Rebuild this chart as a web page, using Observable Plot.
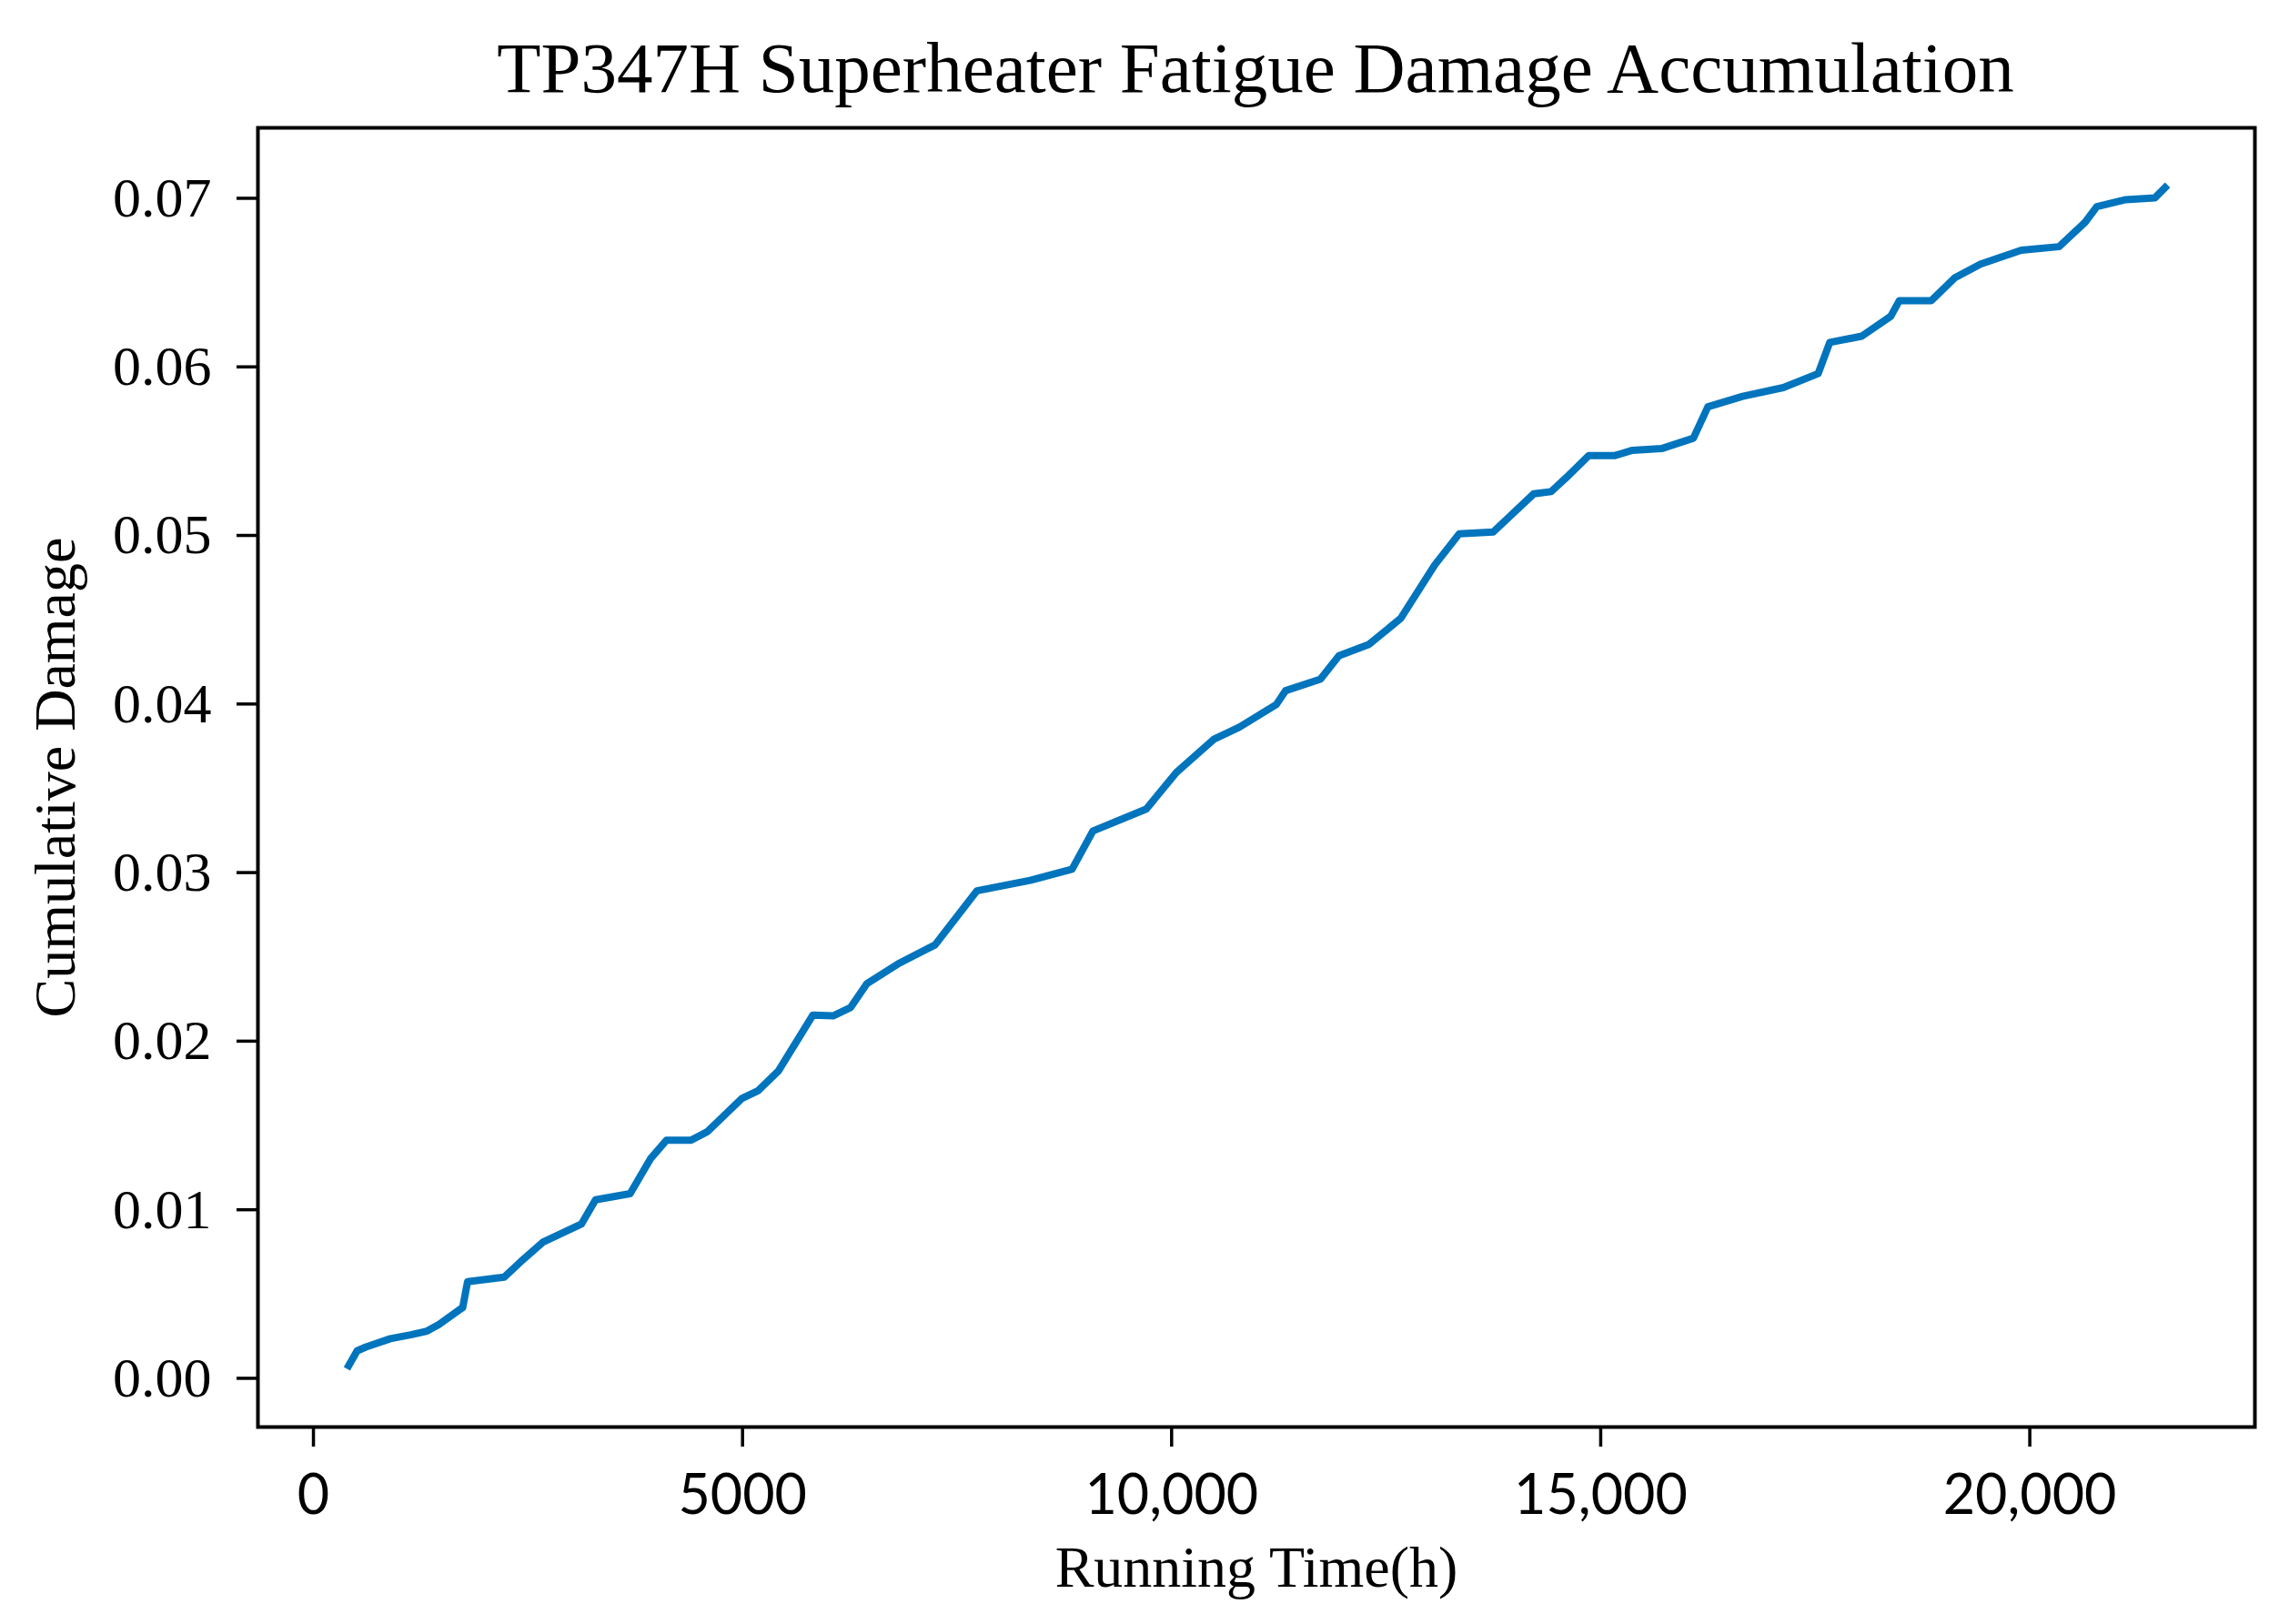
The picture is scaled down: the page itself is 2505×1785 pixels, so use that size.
<!DOCTYPE html>
<html>
<head>
<meta charset="utf-8">
<script src="https://cdn.jsdelivr.net/npm/d3@7"></script>
<script src="https://cdn.jsdelivr.net/npm/@observablehq/plot@0.6"></script>
<style>
  html, body { margin: 0; padding: 0; background: white; }
  #wrap { position: relative; width: 2505px; height: 1785px; overflow: hidden; }
  #title { position: absolute; left: 380px; width: 2000px; top: 35px; height: 90px;
           text-align: center; font-family: "Liberation Serif", "Times New Roman", serif;
           font-size: 79px; line-height: 1; color: #000; white-space: nowrap; }
  #chart { position: absolute; left: 0; top: 125px; }
</style>
</head>
<body>
<div id="wrap">
  <div id="title"></div>
  <div id="chart"></div>
</div>
<script>
const titleText = "TP347H Superheater Fatigue Damage Accumulation";
const xLabel = "Running Time(h)";
const yLabel = "Cumulative Damage";

const xTicks = [0, 5000, 10000, 15000, 20000];
const xTickLabels = ["0", "5000", "10,000", "15,000", "20,000"];
const yTicks = [0, 0.01, 0.02, 0.03, 0.04, 0.05, 0.06, 0.07];

const xDomain = [-647, 22623];
const yDomain = [-0.00289, 0.07418];

const times = [
  390, 509, 613, 897, 1134, 1323, 1463, 1739, 1796, 2223,
  2412, 2672, 3122, 3287, 3690, 3927, 4115, 4401, 4590, 4992,
  5181, 5418, 5820, 6055, 6260, 6450, 6810, 7243, 7731, 8352,
  8840, 9083, 9705, 10056, 10490, 10787, 11220, 11328, 11734, 11950,
  12301, 12670, 13065, 13350, 13746, 14220, 14422, 14592, 14862, 15167,
  15370, 15708, 16080, 16249, 16654, 17128, 17534, 17669, 18042, 18380,
  18480, 18853, 19123, 19427, 19901, 20341, 20645, 20781, 21119, 21456,
  21606
];
const damage = [
  0.00057, 0.00163, 0.00186, 0.00235, 0.00258, 0.0028, 0.0032, 0.0042, 0.00573, 0.0060,
  0.0069, 0.00807, 0.00915, 0.01059, 0.01095, 0.01302, 0.01413, 0.01413, 0.01463, 0.0166,
  0.01706, 0.01823, 0.02155, 0.0215, 0.022, 0.02342, 0.02458, 0.02571, 0.02892, 0.02954,
  0.0302, 0.03247, 0.03377, 0.03594, 0.0379, 0.03862, 0.03997, 0.04079, 0.04147, 0.04286,
  0.04354, 0.04508, 0.04824, 0.05009, 0.0502, 0.05247, 0.0526, 0.0534, 0.05474, 0.05474,
  0.05505, 0.05515, 0.05577, 0.05763, 0.05825, 0.05877, 0.0596, 0.06145, 0.06182, 0.063,
  0.06393, 0.06393, 0.06527, 0.0661, 0.06692, 0.06713, 0.06858, 0.06951, 0.06992, 0.07002,
  0.07079
];

const data = times.map((t, i) => ({time: t, damage: damage[i]}));

document.getElementById("title").textContent = titleText;

const chart = Plot.plot({
  width: 2505,
  height: 1660,
  marginLeft: 283,
  marginRight: 27,
  marginTop: 15,
  marginBottom: 217,
  style: {fontFamily: "Liberation Serif", background: "white", color: "black", overflow: "visible"},
  x: {domain: xDomain, label: null},
  y: {domain: yDomain, label: null},
  marks: [
    Plot.axisX({
      ticks: xTicks,
      tickFormat: d => xTickLabels[xTicks.indexOf(d)],
      tickSize: 22, tickPadding: 30, strokeWidth: 3.5,
      fontSize: 61, fontFamily: "Lato", label: null
    }),
    Plot.axisY({
      ticks: yTicks,
      tickFormat: d3.format(".2f"),
      tickSize: 23, tickPadding: 28, strokeWidth: 3.5,
      fontSize: 62, fontFamily: "Liberation Serif", label: null
    }),
    Plot.frame({stroke: "black", strokeWidth: 4}),
    Plot.line(data, {
      x: "time", y: "damage",
      stroke: "#0074BC", strokeWidth: 8,
      strokeLinejoin: "round", strokeLinecap: "butt"
    }),
    Plot.text([xLabel], {
      frameAnchor: "bottom", lineAnchor: "bottom", dy: 175,
      fontSize: 64, fontFamily: "Liberation Serif", fill: "black"
    }),
    Plot.text([yLabel], {
      frameAnchor: "left", dx: -222, rotate: -90,
      textAnchor: "middle", lineAnchor: "middle",
      fontSize: 64, fontFamily: "Liberation Serif", fill: "black"
    })
  ]
});
document.getElementById("chart").appendChild(chart);
</script>
</body>
</html>
